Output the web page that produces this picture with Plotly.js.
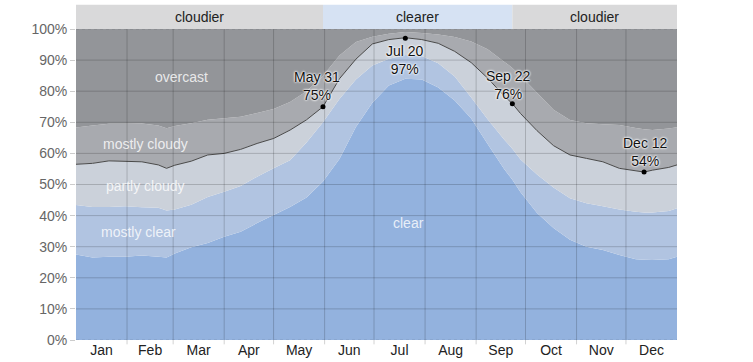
<!DOCTYPE html>
<html>
<head>
<meta charset="utf-8">
<script src="https://cdn.plot.ly/plotly-3.0.1.min.js"></script>
<style>html,body{margin:0;padding:0;background:#fff;}#chart{width:753px;height:362px;}</style>
</head>
<body>
<div id="chart"></div>
<script>
// Day of year (0 = Jan 1)
const days = [0,10,20,30,40,50,55,60,70,80,90,100,110,120,130,140,150,160,170,180,190,200,210,220,230,240,250,260,265,270,280,290,300,310,320,330,340,345,350,360,365];
// Percent of time in each cloud-cover category
const clear        = [27.5,26.5,26.8,26.8,27.2,26.8,26.5,27.8,29.8,31.2,33.2,34.8,37.6,40.2,42.8,45.8,51.0,58.2,68.5,76.3,81.8,84.0,83.8,81.2,77.0,71.2,63.0,55.0,51.5,47.5,40.8,36.0,32.2,30.0,28.9,27.3,26.0,25.8,25.7,26.0,26.8];
const mostlyClear  = [15.9,16.3,16.0,16.2,15.5,15.7,15.1,14.2,13.7,14.8,14.5,14.7,14.9,15.0,15.0,17.7,19.0,19.3,15.3,12.0,8.6,7.6,7.5,7.8,7.7,6.8,8.0,9.5,10.0,10.5,12.4,13.0,13.4,14.0,14.1,14.7,15.2,15.2,15.3,15.5,15.6];
const partlyCloudy = [13.1,14.0,14.8,14.4,14.6,13.8,13.6,14.2,14.0,13.5,12.3,11.8,10.7,9.6,9.7,7.3,5.0,6.5,6.5,6.9,6.2,5.6,5.3,6.4,8.1,11.2,13.2,14.0,14.5,14.8,14.1,13.5,13.9,14.4,14.3,13.2,13.2,13.0,13.6,14.0,13.9];
const mostlyCloudy = [11.8,12.2,11.9,12.1,12.3,12.7,12.9,12.6,12.2,11.3,11.3,10.5,9.8,9.5,9.0,9.2,10.0,7.5,5.5,2.3,1.9,1.8,2.1,2.8,4.6,6.8,9.3,11.0,11.5,12.2,12.2,11.5,11.2,11.3,12.1,13.9,13.8,13.8,12.9,12.5,12.1];
const overcast     = [31.7,31.0,30.5,30.5,30.4,31.0,31.9,31.2,30.3,29.2,28.7,28.2,27.0,25.7,23.5,20.0,15.0,8.5,4.2,2.5,1.5,1.0,1.3,1.8,2.6,4.0,6.5,10.5,12.5,15.0,20.5,26.0,29.3,30.3,30.6,30.9,31.8,32.2,32.5,32.0,31.6];

const categoryNames = ['clear','mostly clear','partly cloudy','mostly cloudy','overcast'];
const categoryColors = ['#93b2de','#b1c4e1','#cbd1da','#a8aaaf','#939599'];

// Highlighted points
const markDays   = [150,200,265,345];
const markValues = [75,97,76,54];
const markLabels = ['May 31','Jul 20','Sep 22','Dec 12'];

// Month axis
const monthStarts = [0,31,59,90,120,151,181,212,243,273,304,334,365];
const monthNames  = ['Jan','Feb','Mar','Apr','May','Jun','Jul','Aug','Sep','Oct','Nov','Dec'];

// Top band
const bandStarts = [0,150,265];
const bandEnds   = [150,265,365];
const bandLabels = ['cloudier','clearer','cloudier'];
const bandColors = ['#d9d9da','#d6e2f3','#d9d9da'];

const yTicks = [0,10,20,30,40,50,60,70,80,90,100];

const series = [clear, mostlyClear, partlyCloudy, mostlyCloudy, overcast];
const traces = series.map((vals, i) => ({
  x: days, y: vals, type: 'scatter', mode: 'none', stackgroup: 'one',
  fillcolor: categoryColors[i], name: categoryNames[i], hoverinfo: 'skip',
  line: {width: 0}
}));
const clearerLine = days.map((d, i) => clear[i] + mostlyClear[i] + partlyCloudy[i]);
traces.push({x: days, y: clearerLine, type: 'scatter', mode: 'lines',
  line: {color: '#4a4a4a', width: 1}, hoverinfo: 'skip'});
traces.push({x: markDays, y: markValues, type: 'scatter', mode: 'markers',
  marker: {color: '#000', size: 5}, hoverinfo: 'skip'});

const font = 'Arial, "Liberation Sans", sans-serif';
const shapes = [];
// vertical month gridlines (also extend below as ticks)
monthStarts.slice(1, -1).forEach(m => shapes.push({type: 'line', xref: 'x', yref: 'paper',
  x0: m, x1: m, y0: -0.014, y1: 1, line: {color: 'rgba(0,0,0,0.18)', width: 1}, layer: 'above'}));
yTicks.slice(1, -1).forEach(v => shapes.push({type: 'line', xref: 'paper', yref: 'y',
  x0: 0, x1: 1, y0: v, y1: v, line: {color: 'rgba(0,0,0,0.18)', width: 1}, layer: 'above'}));
[0, 100].forEach(v => shapes.push({type: 'line', xref: 'paper', yref: 'y',
  x0: 0, x1: 1, y0: v, y1: v, line: {color: 'rgba(0,0,0,0.12)', width: 1, dash: 'dot'}, layer: 'above'}));
bandStarts.forEach((s, i) => shapes.push({type: 'rect', xref: 'x', yref: 'paper',
  x0: s, x1: bandEnds[i], y0: 1, y1: 1.078, fillcolor: bandColors[i], line: {width: 0}, layer: 'below'}));

const annotations = [];
bandStarts.forEach((s, i) => annotations.push({xref: 'x', yref: 'paper', x: (s + bandEnds[i]) / 2, y: 1.039,
  xanchor: 'center', yanchor: 'middle',
  text: bandLabels[i], showarrow: false, font: {family: font, size: 14, color: '#222'}}));
markDays.forEach((d, i) => {
  const dx = [-6, 0, -4, 1][i];
  const dy = [21, -22, 19, 20][i];
  annotations.push({xref: 'x', yref: 'y', x: d, y: markValues[i], xshift: dx, yshift: dy,
    xanchor: 'center', yanchor: 'middle',
    text: markLabels[i] + '<br>' + markValues[i] + '%', showarrow: false,
    font: {family: font, size: 14, color: '#111', shadow: '0 0 2px #fff, 0 0 2px #fff, 0 0 3px #fff'}});
});
const areaLabels = [
  {x: 64, y: 84.6, t: 'overcast'},
  {x: 42, y: 63, t: 'mostly cloudy'},
  {x: 42, y: 49.5, t: 'partly cloudy'},
  {x: 38, y: 34.7, t: 'mostly clear'},
  {x: 202, y: 37.6, t: 'clear'}
];
areaLabels.forEach(a => annotations.push({xref: 'x', yref: 'y', x: a.x, y: a.y, text: a.t, showarrow: false,
  xanchor: 'center', yanchor: 'middle',
  font: {family: font, size: 14, color: 'rgba(255,255,255,0.8)'}}));

const layout = {
  width: 753, height: 362,
  margin: {l: 76, r: 76, t: 29, b: 22, pad: 0},
  paper_bgcolor: '#fff', plot_bgcolor: '#fff',
  showlegend: false,
  font: {family: font, size: 14, color: '#666'},
  xaxis: {range: [0, 365], tickmode: 'array',
    tickvals: monthStarts.slice(0, -1).map((m, i) => (m + monthStarts[i + 1]) / 2),
    ticktext: monthNames, showgrid: false, zeroline: false, ticks: '', ticklen: 0,
    tickfont: {color: '#222', size: 14, family: font}, fixedrange: true},
  yaxis: {range: [0, 100], tickmode: 'array', tickvals: yTicks, ticktext: yTicks.map(v => v + '%'),
    showgrid: false, zeroline: false, ticks: 'outside', ticklen: 5, tickcolor: '#ccc',
    tickfont: {color: '#666', size: 14, family: font}, fixedrange: true},
  yaxis2: {range: [100, 0], overlaying: 'y', side: 'right', tickmode: 'array', tickvals: yTicks,
    ticktext: yTicks.map(v => v + '%'), showgrid: false, zeroline: false, ticks: 'outside', ticklen: 5,
    tickcolor: '#ccc', tickfont: {color: '#666', size: 14, family: font}, fixedrange: true},
  shapes: shapes,
  annotations: annotations
};

Plotly.newPlot('chart', traces, layout, {staticPlot: true, displayModeBar: false});
</script>
</body>
</html>
